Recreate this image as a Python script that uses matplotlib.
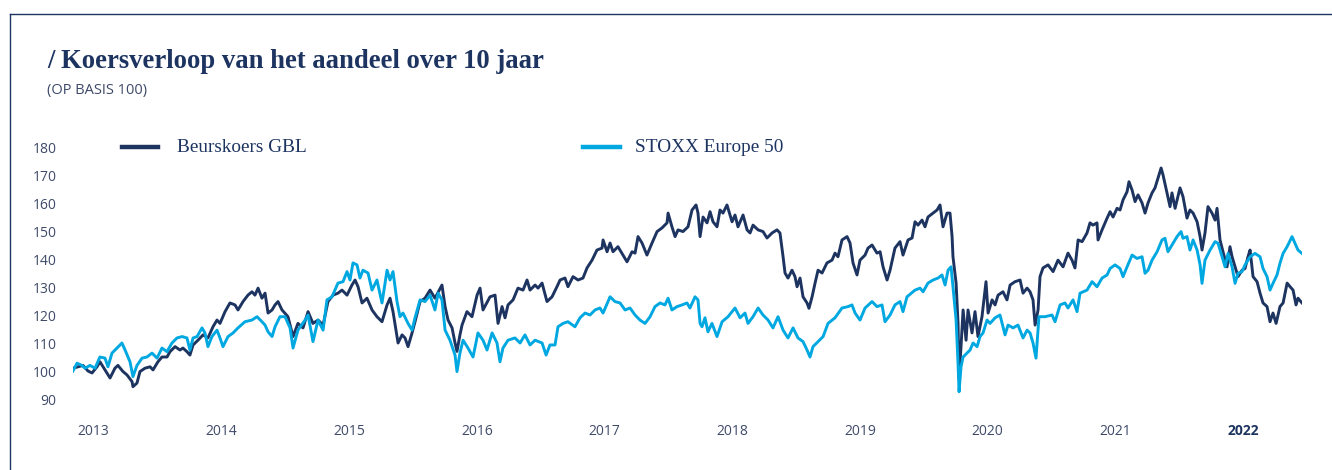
import matplotlib
matplotlib.use("Agg")
import matplotlib.pyplot as plt
from matplotlib.lines import Line2D

# tijdstippen (decimale jaren) en koers op basis 100
gbl_t = [2013.000, 2013.039, 2013.077, 2013.116, 2013.147, 2013.185, 2013.208, 2013.247, 2013.286, 2013.324,
         2013.347, 2013.386, 2013.417, 2013.456, 2013.463, 2013.494, 2013.517, 2013.556, 2013.595, 2013.618,
         2013.656, 2013.687, 2013.726, 2013.749, 2013.788, 2013.826, 2013.849, 2013.880, 2013.903, 2013.927,
         2013.965, 2014.004, 2014.042, 2014.081, 2014.112, 2014.135, 2014.174, 2014.212, 2014.251, 2014.274,
         2014.313, 2014.351, 2014.382, 2014.405, 2014.429, 2014.459, 2014.483, 2014.506, 2014.537, 2014.560,
         2014.583, 2014.614, 2014.660, 2014.699, 2014.737, 2014.776, 2014.815, 2014.853, 2014.892, 2014.931,
         2014.969, 2015.008, 2015.046, 2015.077, 2015.116, 2015.154, 2015.178, 2015.201, 2015.232, 2015.270,
         2015.309, 2015.347, 2015.386, 2015.425, 2015.448, 2015.471, 2015.510, 2015.541, 2015.564, 2015.587,
         2015.618, 2015.641, 2015.680, 2015.718, 2015.757, 2015.795, 2015.849, 2015.873, 2015.896, 2015.927,
         2015.950, 2015.965, 2015.988, 2016.004, 2016.042, 2016.081, 2016.120, 2016.143, 2016.166, 2016.220,
         2016.259, 2016.282, 2016.313, 2016.336, 2016.359, 2016.398, 2016.436, 2016.475, 2016.506, 2016.529,
         2016.568, 2016.591, 2016.622, 2016.660, 2016.699, 2016.737, 2016.761, 2016.799, 2016.822, 2016.861,
         2016.900, 2016.938, 2016.969, 2017.008, 2017.046, 2017.085, 2017.093, 2017.124, 2017.147, 2017.170,
         2017.208, 2017.247, 2017.278, 2017.317, 2017.340, 2017.363, 2017.394, 2017.432, 2017.471, 2017.510,
         2017.548, 2017.587, 2017.595, 2017.625, 2017.649, 2017.672, 2017.710, 2017.749, 2017.780, 2017.811,
         2017.826, 2017.842, 2017.865, 2017.896, 2017.919, 2017.942, 2017.973, 2017.996, 2018.019, 2018.050,
         2018.089, 2018.112, 2018.135, 2018.174, 2018.205, 2018.228, 2018.251, 2018.290, 2018.328, 2018.359,
         2018.398, 2018.436, 2018.459, 2018.483, 2018.498, 2018.521, 2018.552, 2018.575, 2018.591, 2018.614,
         2018.637, 2018.668, 2018.683, 2018.707, 2018.730, 2018.753, 2018.784, 2018.822, 2018.861, 2018.884,
         2018.907, 2018.938, 2018.977, 2019.000, 2019.023, 2019.054, 2019.077, 2019.116, 2019.139, 2019.170,
         2019.208, 2019.232, 2019.255, 2019.286, 2019.309, 2019.347, 2019.386, 2019.409, 2019.448, 2019.479,
         2019.502, 2019.525, 2019.556, 2019.579, 2019.602, 2019.641, 2019.672, 2019.695, 2019.718, 2019.749,
         2019.772, 2019.788, 2019.795, 2019.819, 2019.834, 2019.842, 2019.857, 2019.873, 2019.896, 2019.911,
         2019.942, 2019.965, 2019.988, 2020.019, 2020.050, 2020.066, 2020.097, 2020.120, 2020.143, 2020.181,
         2020.212, 2020.236, 2020.274, 2020.313, 2020.336, 2020.367, 2020.390, 2020.413, 2020.429, 2020.452,
         2020.467, 2020.490, 2020.529, 2020.568, 2020.606, 2020.645, 2020.683, 2020.714, 2020.737, 2020.761,
         2020.792, 2020.830, 2020.853, 2020.876, 2020.907, 2020.915, 2020.946, 2020.985, 2021.008, 2021.031,
         2021.062, 2021.085, 2021.108, 2021.139, 2021.154, 2021.178, 2021.201, 2021.224, 2021.255, 2021.278,
         2021.301, 2021.332, 2021.355, 2021.378, 2021.402, 2021.417, 2021.448, 2021.471, 2021.486, 2021.510,
         2021.548, 2021.571, 2021.602, 2021.625, 2021.649, 2021.680, 2021.703, 2021.718, 2021.741, 2021.764,
         2021.795, 2021.819, 2021.834, 2021.857, 2021.880, 2021.911, 2021.934, 2021.950, 2021.973, 2021.996,
         2022.027, 2022.050, 2022.073, 2022.089, 2022.112, 2022.143, 2022.166, 2022.189, 2022.220, 2022.243,
         2022.266, 2022.290, 2022.320, 2022.344, 2022.375, 2022.398, 2022.421, 2022.444, 2022.459, 2022.490]
gbl = [101.0, 101.5, 102.0, 100.0, 99.3, 101.5, 103.3, 100.4, 97.5, 101.0,
       102.0, 99.8, 98.6, 96.2, 94.4, 95.7, 99.8, 101.0, 101.5, 100.4,
       103.3, 105.0, 105.0, 106.9, 108.7, 107.5, 108.2, 106.9, 105.7, 109.3,
       111.0, 112.9, 111.8, 115.8, 118.2, 117.0, 121.2, 124.3, 123.6, 121.8,
       124.8, 127.1, 128.3, 127.1, 129.6, 126.0, 127.8, 120.7, 121.8, 123.6,
       124.8, 121.8, 119.4, 112.3, 117.0, 115.4, 121.2, 117.0, 118.2, 116.4,
       124.8, 127.1, 127.8, 128.9, 127.1, 130.7, 132.5, 130.1, 124.3, 126.0,
       121.8, 119.4, 117.6, 123.6, 126.0, 121.2, 110.0, 112.9, 111.8, 108.7,
       113.6, 117.6, 124.8, 126.0, 128.9, 126.0, 130.7, 123.0, 118.2, 115.4,
       110.0, 107.0, 112.9, 116.4, 121.2, 119.4, 127.1, 129.6, 121.8, 126.5,
       127.1, 117.0, 123.0, 119.0, 123.6, 125.4, 129.6, 128.9, 132.5, 128.9,
       130.7, 129.6, 131.4, 124.8, 126.5, 130.1, 132.5, 133.2, 130.1, 133.7,
       132.5, 133.2, 136.8, 139.6, 143.2, 143.9, 146.8, 142.6, 145.7, 142.6,
       144.4, 141.4, 139.0, 142.6, 142.1, 148.0, 145.7, 141.4, 145.7, 149.8,
       151.1, 152.9, 156.4, 151.5, 148.0, 150.4, 149.8, 151.5, 157.5, 159.3,
       156.4, 148.0, 155.0, 152.9, 156.9, 153.3, 151.5, 157.5, 156.4, 159.3,
       153.3, 155.7, 151.5, 155.7, 150.4, 149.3, 152.1, 150.4, 149.8, 147.5,
       149.3, 150.4, 149.3, 140.8, 135.0, 133.2, 136.0, 133.7, 130.1, 133.2,
       126.5, 124.3, 122.4, 126.5, 131.4, 136.0, 135.0, 138.6, 139.6, 142.1,
       140.8, 146.8, 148.0, 145.7, 138.6, 134.3, 139.6, 141.4, 143.9, 145.0,
       142.1, 142.6, 137.2, 132.5, 136.0, 143.9, 146.2, 141.4, 146.8, 147.5,
       153.3, 152.1, 153.9, 151.5, 155.0, 156.4, 157.5, 159.3, 151.5, 156.4,
       156.4, 148.0, 140.8, 131.4, 117.0, 97.5, 108.7, 121.8, 111.0, 121.8,
       113.6, 121.2, 112.3, 119.4, 131.9, 120.7, 125.4, 123.6, 127.1, 128.3,
       125.4, 130.7, 131.9, 132.5, 127.8, 129.6, 128.3, 125.4, 116.4, 121.8,
       133.7, 136.8, 137.9, 135.5, 139.6, 137.2, 142.1, 139.6, 136.8, 146.8,
       146.2, 149.3, 152.9, 152.1, 152.9, 146.8, 150.4, 154.6, 156.9, 155.0,
       158.1, 157.5, 161.1, 164.0, 167.6, 164.6, 160.5, 162.9, 160.0, 156.4,
       160.0, 163.6, 165.4, 168.9, 172.5, 170.0, 163.6, 158.7, 163.6, 158.1,
       165.4, 162.3, 154.6, 157.5, 156.4, 153.3, 148.0, 143.2, 149.3, 158.7,
       156.4, 153.9, 158.1, 146.8, 142.6, 137.2, 144.4, 140.8, 137.2, 133.7,
       136.0, 136.6, 140.8, 143.2, 133.7, 131.9, 127.8, 124.3, 123.0, 117.6,
       120.7, 117.0, 123.0, 124.3, 131.4, 130.1, 128.9, 123.6, 126.0, 124.3]

stoxx_t = [2013.000, 2013.031, 2013.069, 2013.093, 2013.131, 2013.170, 2013.208, 2013.247, 2013.270, 2013.301,
           2013.340, 2013.378, 2013.402, 2013.440, 2013.463, 2013.494, 2013.533, 2013.571, 2013.610, 2013.649,
           2013.687, 2013.726, 2013.764, 2013.803, 2013.842, 2013.880, 2013.903, 2013.927, 2013.958, 2013.996,
           2014.019, 2014.042, 2014.073, 2014.112, 2014.135, 2014.158, 2014.197, 2014.236, 2014.274, 2014.328,
           2014.382, 2014.421, 2014.459, 2014.483, 2014.506, 2014.537, 2014.560, 2014.598, 2014.637, 2014.676,
           2014.699, 2014.737, 2014.792, 2014.815, 2014.853, 2014.892, 2014.931, 2014.961, 2015.000, 2015.046,
           2015.085, 2015.116, 2015.139, 2015.162, 2015.193, 2015.216, 2015.239, 2015.278, 2015.309, 2015.347,
           2015.386, 2015.425, 2015.448, 2015.471, 2015.502, 2015.525, 2015.548, 2015.587, 2015.618, 2015.641,
           2015.680, 2015.718, 2015.757, 2015.795, 2015.819, 2015.849, 2015.873, 2015.911, 2015.950, 2015.965,
           2015.988, 2016.012, 2016.050, 2016.089, 2016.127, 2016.166, 2016.197, 2016.236, 2016.274, 2016.297,
           2016.320, 2016.359, 2016.413, 2016.452, 2016.490, 2016.529, 2016.568, 2016.622, 2016.653, 2016.683,
           2016.722, 2016.745, 2016.784, 2016.822, 2016.876, 2016.915, 2016.954, 2016.992, 2017.031, 2017.069,
           2017.093, 2017.147, 2017.185, 2017.224, 2017.263, 2017.301, 2017.340, 2017.378, 2017.417, 2017.456,
           2017.494, 2017.533, 2017.571, 2017.595, 2017.625, 2017.664, 2017.703, 2017.741, 2017.764, 2017.803,
           2017.826, 2017.842, 2017.857, 2017.880, 2017.903, 2017.934, 2017.973, 2018.012, 2018.058, 2018.112,
           2018.151, 2018.189, 2018.212, 2018.251, 2018.290, 2018.328, 2018.367, 2018.405, 2018.444, 2018.483,
           2018.521, 2018.560, 2018.598, 2018.637, 2018.668, 2018.691, 2018.714, 2018.753, 2018.792, 2018.830,
           2018.884, 2018.938, 2018.985, 2019.015, 2019.039, 2019.077, 2019.116, 2019.170, 2019.208, 2019.247,
           2019.270, 2019.309, 2019.347, 2019.386, 2019.409, 2019.440, 2019.502, 2019.541, 2019.564, 2019.602,
           2019.641, 2019.680, 2019.710, 2019.734, 2019.757, 2019.780, 2019.795, 2019.819, 2019.834, 2019.842,
           2019.857, 2019.873, 2019.903, 2019.927, 2019.950, 2019.981, 2020.004, 2020.027, 2020.058, 2020.081,
           2020.120, 2020.158, 2020.181, 2020.197, 2020.220, 2020.259, 2020.297, 2020.336, 2020.367, 2020.390,
           2020.413, 2020.436, 2020.452, 2020.459, 2020.506, 2020.560, 2020.583, 2020.622, 2020.660, 2020.683,
           2020.722, 2020.753, 2020.776, 2020.830, 2020.869, 2020.907, 2020.946, 2020.985, 2021.008, 2021.046,
           2021.085, 2021.108, 2021.139, 2021.178, 2021.216, 2021.255, 2021.278, 2021.301, 2021.332, 2021.371,
           2021.409, 2021.432, 2021.455, 2021.486, 2021.525, 2021.556, 2021.571, 2021.602, 2021.625, 2021.649,
           2021.680, 2021.703, 2021.718, 2021.741, 2021.780, 2021.819, 2021.842, 2021.873, 2021.896, 2021.919,
           2021.950, 2021.973, 2021.996, 2022.027, 2022.050, 2022.089, 2022.127, 2022.166, 2022.189, 2022.220,
           2022.243, 2022.266, 2022.297, 2022.320, 2022.344, 2022.375, 2022.413, 2022.436, 2022.459, 2022.490]
stoxx = [100.0, 102.8, 102.0, 101.0, 102.0, 101.0, 105.0, 104.6, 101.5, 106.4,
         108.2, 110.0, 107.5, 103.3, 98.0, 102.0, 104.6, 105.0, 106.4, 104.6,
         108.2, 106.9, 110.0, 111.8, 112.3, 111.8, 107.5, 111.8, 112.3, 115.4,
         113.6, 108.7, 112.3, 114.6, 111.8, 108.7, 112.3, 113.6, 115.4, 117.6,
         118.2, 119.4, 117.6, 116.4, 114.0, 112.3, 115.8, 119.4, 119.4, 115.4,
         108.2, 114.6, 118.2, 120.0, 110.5, 118.2, 114.6, 125.4, 126.5, 131.4,
         131.9, 135.5, 132.5, 138.6, 137.9, 133.2, 136.0, 135.0, 128.9, 132.5,
         124.3, 136.0, 132.5, 135.5, 124.8, 119.4, 120.7, 117.0, 114.6, 119.0,
         125.4, 124.8, 127.1, 121.8, 127.8, 125.4, 114.6, 111.0, 105.7, 99.8,
         106.4, 111.0, 108.2, 105.0, 113.6, 111.0, 107.5, 113.6, 110.0, 103.3,
         108.2, 111.0, 111.8, 110.0, 112.9, 109.3, 111.0, 110.0, 105.7, 109.3,
         109.3, 115.8, 117.0, 117.6, 115.8, 119.0, 120.7, 120.0, 121.8, 122.5,
         120.7, 126.5, 124.8, 124.3, 121.8, 122.5, 120.0, 118.2, 117.0, 119.4,
         123.0, 124.3, 123.6, 126.0, 121.8, 123.0, 123.6, 124.3, 122.5, 126.5,
         125.4, 117.0, 115.8, 119.0, 114.0, 117.0, 112.3, 117.6, 119.4, 122.5,
         119.0, 120.7, 117.0, 119.4, 122.5, 120.0, 118.2, 115.4, 119.4, 114.6,
         111.8, 115.4, 111.8, 110.5, 107.5, 105.0, 108.7, 110.5, 112.3, 117.0,
         119.0, 122.5, 123.0, 123.6, 120.7, 118.2, 122.5, 124.8, 123.0, 123.6,
         117.6, 120.0, 123.6, 124.8, 121.2, 126.5, 128.9, 129.6, 128.3, 131.4,
         132.5, 133.2, 134.3, 130.7, 136.0, 137.2, 130.1, 118.2, 102.8, 92.6,
         101.5, 105.0, 106.4, 107.5, 110.0, 108.7, 112.3, 113.6, 118.2, 117.0,
         119.0, 120.0, 115.8, 112.9, 116.4, 115.4, 116.4, 111.8, 114.6, 113.6,
         110.0, 104.6, 114.6, 119.4, 119.4, 120.0, 117.6, 123.6, 124.3, 122.5,
         125.4, 121.2, 127.8, 128.9, 131.9, 130.1, 133.2, 134.3, 136.6, 137.9,
         136.6, 133.7, 137.2, 141.4, 140.2, 140.8, 134.9, 136.0, 139.6, 142.6,
         146.8, 147.4, 142.6, 145.0, 148.0, 149.8, 147.4, 148.0, 143.2, 146.8,
         143.2, 137.9, 131.3, 139.6, 143.2, 146.2, 145.6, 140.8, 137.2, 142.0,
         137.2, 131.3, 134.9, 135.5, 137.9, 140.8, 142.0, 140.8, 136.6, 133.7,
         128.9, 131.3, 134.3, 138.5, 142.0, 144.4, 148.0, 145.6, 143.2, 142.0]

years = [2013, 2014, 2015, 2016, 2017, 2018, 2019, 2020, 2021, 2022]
y_ticks = [90, 100, 110, 120, 130, 140, 150, 160, 170, 180]

NAVY = "#1d3461"
CYAN = "#00a8e1"
GREY = "#3e4a68"

W, H = 1332, 470
fig = plt.figure(figsize=(W / 100, H / 100), dpi=100)

# kader links en boven
fig.add_artist(Line2D([10 / W, 10 / W], [0, 1 - 14 / H], color=NAVY, lw=1.0))
fig.add_artist(Line2D([10 / W, 1], [1 - 14 / H, 1 - 14 / H], color=NAVY, lw=1.0))

fig.text(47 / W, 1 - 68 / H, "/ Koersverloop van het aandeel over 10 jaar",
         family="Liberation Serif", weight="bold", size=19.2, color=NAVY)
fig.text(47 / W, 1 - 94 / H, "(OP BASIS 100)", family="Open Sans",
         size=10.5, color=GREY)

ax = fig.add_axes([73 / W, 65 / H, 1229 / W, 265 / H])
ax.plot(gbl_t, gbl, color=NAVY, lw=2.1, solid_joinstyle="round")
ax.plot(stoxx_t, stoxx, color=CYAN, lw=2.1, solid_joinstyle="round")

ax.set_xlim(2013.0, 2022.49)
ax.set_ylim(87.86, 182.5)
for s in ax.spines.values():
    s.set_visible(False)

ax.set_yticks(y_ticks)
ax.set_yticklabels([str(v) for v in y_ticks], family="Open Sans", size=10, color=GREY)
xpos = [2013.16 + i * 0.986 for i in range(len(years))]
ax.set_xticks(xpos)
ax.set_xticklabels([str(y) for y in years], family="Open Sans", size=10, color=GREY)
ax.get_xticklabels()[-1].set_weight("bold")
ax.get_xticklabels()[-1].set_color(NAVY)
ax.tick_params(axis="both", length=0)
ax.tick_params(axis="y", pad=12)
ax.tick_params(axis="x", pad=14)

# legende
fig.add_artist(Line2D([122 / W, 158 / W], [1 - 147 / H] * 2, color=NAVY, lw=3.2))
fig.text(177 / W, 1 - 147 / H, "Beurskoers GBL", family="Liberation Serif",
         size=13.9, color=NAVY, va="center")
fig.add_artist(Line2D([583 / W, 620 / W], [1 - 147 / H] * 2, color=CYAN, lw=3.2))
fig.text(635 / W, 1 - 147 / H, "STOXX Europe 50", family="Liberation Serif",
         size=13.9, color=NAVY, va="center")

fig.savefig("out.png", dpi=100)
